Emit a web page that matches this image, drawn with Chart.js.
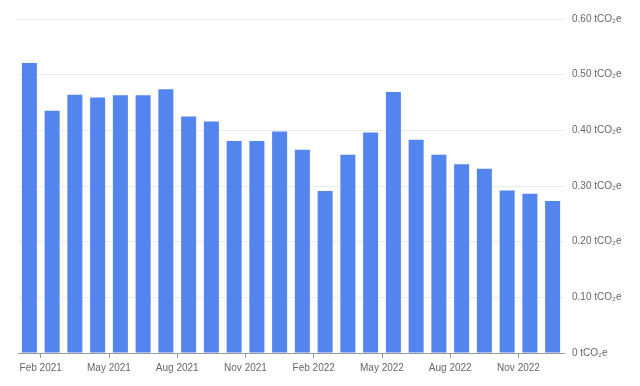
<!DOCTYPE html>
<html>
<head>
<meta charset="utf-8">
<script src="https://cdn.jsdelivr.net/npm/chart.js@4/dist/chart.umd.min.js"></script>
<style>
  html, body { margin: 0; padding: 0; background: #fff; }
  #wrap { width: 640px; height: 386px; }
</style>
</head>
<body>
<div id="wrap"><canvas id="emissionsChart"></canvas></div>
<script>
// monthly values, Jan 2021 - Dec 2022
const months = [
  'Jan 2021', 'Feb 2021', 'Mar 2021', 'Apr 2021', 'May 2021', 'Jun 2021',
  'Jul 2021', 'Aug 2021', 'Sep 2021', 'Oct 2021', 'Nov 2021', 'Dec 2021',
  'Jan 2022', 'Feb 2022', 'Mar 2022', 'Apr 2022', 'May 2022', 'Jun 2022',
  'Jul 2022', 'Aug 2022', 'Sep 2022', 'Oct 2022', 'Nov 2022', 'Dec 2022'
];
const emissions = [
  0.521, 0.435, 0.464, 0.459, 0.463, 0.463, 0.474, 0.425, 0.416, 0.381, 0.381, 0.398,
  0.365, 0.291, 0.356, 0.396, 0.469, 0.383, 0.356, 0.339, 0.331, 0.292, 0.286, 0.273
];
const yTicks = [0, 0.1, 0.2, 0.3, 0.4, 0.5, 0.6];

const font = { family: 'Liberation Sans, Arial, Helvetica, sans-serif', size: 10 };
const ctx = document.getElementById('emissionsChart').getContext('2d');

const emissionsChart = new Chart(ctx, {
  type: 'bar',
  data: {
    labels: months,
    datasets: [{
      data: emissions,
      backgroundColor: '#5484ed',
      borderWidth: 0,
      barPercentage: 0.66,
      categoryPercentage: 1
    }]
  },
  options: {
    responsive: true,
    maintainAspectRatio: false,
    animation: false,
    layout: { padding: { left: 18, top: 19, right: 0, bottom: 0 } },
    plugins: { legend: { display: false }, tooltip: { enabled: false } },
    scales: {
      x: {
        offset: true,
        afterFit: (scale) => { scale.height = 33; },
        grid: {
          offset: true,
          drawOnChartArea: false,
          tickLength: 5,
          color: (c) => (c.index % 3 === 1 ? '#999' : 'rgba(0,0,0,0)')
        },
        border: { display: true, color: '#999' },
        ticks: {
          autoSkip: false,
          maxRotation: 0,
          padding: 4,
          labelOffset: -11.4,
          color: '#666',
          font: font,
          callback: (v, i) => (i % 3 === 1 ? months[i] : '')
        }
      },
      y: {
        position: 'right',
        min: 0,
        max: 0.6,
        afterFit: (scale) => { scale.width = 76; },
        afterBuildTicks: (scale) => { scale.ticks = yTicks.map(v => ({ value: v })); },
        grid: { color: '#ebebeb', drawTicks: false },
        border: { display: false },
        ticks: {
          padding: 8,
          color: '#666',
          font: font,
          callback: (v) => (v === 0 ? '0' : v.toFixed(2)) + ' tCO\u2082e'
        }
      }
    }
  }
});
</script>
</body>
</html>
